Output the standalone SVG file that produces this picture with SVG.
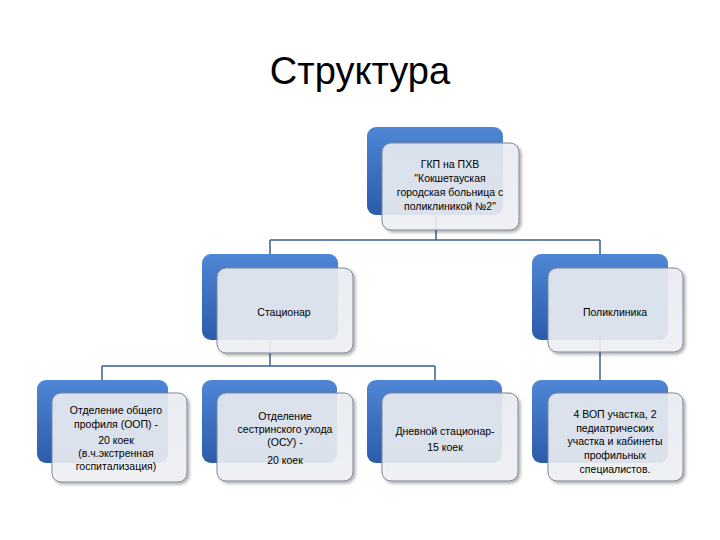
<svg xmlns="http://www.w3.org/2000/svg" width="720" height="540" viewBox="0 0 720 540">
<defs>
<linearGradient id="blue" x1="0" y1="0" x2="0" y2="1">
<stop offset="0" stop-color="#4f86d6"/>
<stop offset="1" stop-color="#2b5caa"/>
</linearGradient>
<linearGradient id="front" x1="0" y1="0" x2="0" y2="1">
<stop offset="0" stop-color="#eceff4"/>
<stop offset="1" stop-color="#f1f3f6"/>
</linearGradient>
<filter id="sh" x="-10%" y="-10%" width="130%" height="130%">
<feDropShadow dx="2" dy="2" stdDeviation="1.5" flood-color="#000" flood-opacity="0.35"/>
</filter>
</defs>
<style>
.back{fill:url(#blue);}
.front{fill:url(#front);fill-opacity:0.88;stroke:#7d8796;stroke-width:1;filter:url(#sh);}
.conn{fill:none;stroke:#3a5f8f;stroke-width:1.5;}
text{font-family:"Liberation Sans","DejaVu Sans",sans-serif;font-size:10.5px;fill:#000;text-anchor:middle;}
.title{font-size:38px;fill:#000;}
</style>
<rect width="720" height="540" fill="#fff"/>
<text class="title" x="360" y="84">Структура</text>
<g id="connectors">
<path class="conn" d="M436 215 V240 M270 240 H600 M270 240 V254 M600 240 V254"/>
<path class="conn" d="M270 340 V366 M102 366 H435 M102 366 V380 M435 366 V380"/>
<path class="conn" d="M600 340 V380"/>
</g>
<g id="n0">
<rect class="back" x="367" y="127" width="136" height="88" rx="9"/>
<rect class="front" x="382" y="143" width="137" height="87" rx="9"/>
<text x="450" y="168">ГКП на ПХВ</text>
<text x="450" y="182">"Кокшетауская</text>
<text x="450" y="196">городская больница с</text>
<text x="450" y="210">поликлиникой №2"</text>
</g>
<g id="n1">
<rect class="back" x="202" y="254" width="136" height="86" rx="9"/>
<rect class="front" x="217" y="268" width="136" height="85" rx="9"/>
<text x="284" y="316">Стационар</text>
</g>
<g id="n2">
<rect class="back" x="532" y="254" width="136" height="86" rx="9"/>
<rect class="front" x="548" y="268" width="135" height="84" rx="9"/>
<text x="615" y="316">Поликлиника</text>
</g>
<g id="n3">
<rect class="back" x="37" y="380" width="131" height="83" rx="9"/>
<rect class="front" x="52" y="393" width="135" height="89" rx="9"/>
<text x="116" y="414">Отделение общего</text>
<text x="116" y="428">профиля (ООП) -</text>
<text x="116" y="444">20 коек</text>
<text x="116" y="457">(в.ч.экстренная</text>
<text x="116" y="470">госпитализация)</text>
</g>
<g id="n4">
<rect class="back" x="202" y="380" width="135" height="83" rx="9"/>
<rect class="front" x="217" y="393" width="136" height="88" rx="9"/>
<text x="285" y="420">Отделение</text>
<text x="285" y="433">сестринского ухода</text>
<text x="285" y="446">(ОСУ) -</text>
<text x="285" y="464">20 коек</text>
</g>
<g id="n5">
<rect class="back" x="367" y="380" width="135" height="83" rx="9"/>
<rect class="front" x="382" y="393" width="136" height="88" rx="9"/>
<text x="445" y="435">Дневной стационар-</text>
<text x="445" y="451">15 коек</text>
</g>
<g id="n6">
<rect class="back" x="532" y="380" width="136" height="83" rx="9"/>
<rect class="front" x="548" y="393" width="135" height="88" rx="9"/>
<text x="615" y="418">4 ВОП участка, 2</text>
<text x="615" y="432">педиатрических</text>
<text x="615" y="445">участка и кабинеты</text>
<text x="615" y="459">профильных</text>
<text x="615" y="473">специалистов.</text>
</g>
</svg>
